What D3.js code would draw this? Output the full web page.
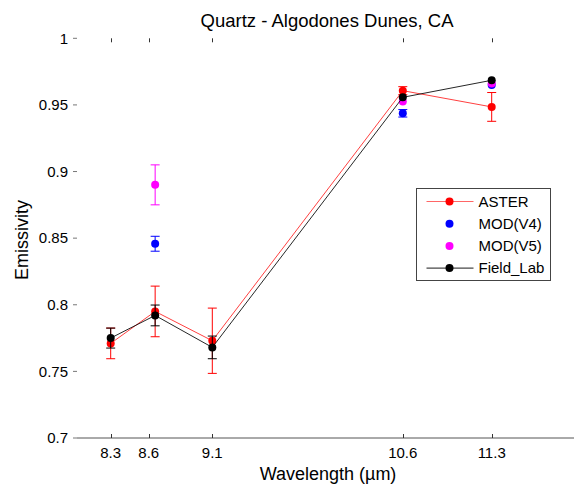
<!DOCTYPE html>
<html>
<head>
<meta charset="utf-8">
<script src="https://cdn.jsdelivr.net/npm/d3@7"></script>
<style>
  body { margin: 0; background: #fff; }
  text { font-family: "Liberation Sans", Arial, sans-serif; fill: #000; }
</style>
</head>
<body>
<div id="chart"></div>
<script>
// band centres (um) and tick labels
const xTicks = [8.3, 8.6, 9.1, 10.6, 11.3];
const yTicks = [0.7, 0.75, 0.8, 0.85, 0.9, 0.95, 1];

// emissivity per series, [wavelength, value, error]
const aster = [[8.3, 0.771, 0.0115], [8.65, 0.795, 0.019], [9.1, 0.773, 0.0245], [10.6, 0.9607, 0.003], [11.3, 0.9485, 0.0108]];
const modV4 = [[8.65, 0.8458, 0.0056], [10.6, 0.9437, 0.0028], [11.3, 0.965, 0]];
const modV5 = [[8.65, 0.890, 0.015], [10.6, 0.9525, 0], [11.3, 0.966, 0]];
const fieldLab = [[8.3, 0.775, 0.0075], [8.65, 0.792, 0.0078], [9.1, 0.768, 0.0085], [10.6, 0.9557, 0], [11.3, 0.9685, 0]];

const series = [
  {name: 'ASTER', data: aster, color: '#ff0000', line: true},
  {name: 'MOD(V4)', data: modV4, color: '#0000ff', line: false},
  {name: 'MOD(V5)', data: modV5, color: '#ff00ff', line: false},
  {name: 'Field_Lab', data: fieldLab, color: '#000000', line: true}
];

const width = 574, height = 486;
const margins = {left: 77, right: 574, top: 38.3, bottom: 438};

const svg = d3.select('#chart').append('svg')
  .attr('width', width)
  .attr('height', height);

const x = d3.scaleLinear().domain([8.3, 11.3]).range([110.7, 491.7]);
const y = d3.scaleLinear().domain([0.7, 1]).range([margins.bottom, margins.top]);

// bottom axis line
svg.append('line')
  .attr('x1', margins.left).attr('x2', margins.right)
  .attr('y1', margins.bottom).attr('y2', margins.bottom)
  .style('stroke', '#555').style('stroke-width', 1);

// x ticks (bottom, pointing up) and (top, pointing down)
svg.selectAll('line.xtick-bottom')
  .data(xTicks).enter().append('line')
  .attr('class', 'xtick-bottom')
  .attr('x1', d => Math.round(x(d)) + 0.5).attr('x2', d => Math.round(x(d)) + 0.5)
  .attr('y1', margins.bottom - 4).attr('y2', margins.bottom)
  .style('stroke', '#333');
svg.selectAll('line.xtick-top')
  .data(xTicks).enter().append('line')
  .attr('class', 'xtick-top')
  .attr('x1', d => Math.round(x(d)) + 0.5).attr('x2', d => Math.round(x(d)) + 0.5)
  .attr('y1', margins.top).attr('y2', margins.top + 4)
  .style('stroke', '#333');
svg.selectAll('text.xlabel')
  .data(xTicks).enter().append('text')
  .attr('class', 'xlabel')
  .attr('x', d => x(d)).attr('y', 458)
  .attr('text-anchor', 'middle')
  .style('font-size', '15px')
  .text(d => d3.format('.1f')(d));

// y ticks (left, pointing outward)
svg.selectAll('line.ytick')
  .data(yTicks).enter().append('line')
  .attr('class', 'ytick')
  .attr('x1', margins.left - 4).attr('x2', margins.left)
  .attr('y1', d => y(d)).attr('y2', d => y(d))
  .style('stroke', '#777');
svg.selectAll('text.ylabel')
  .data(yTicks).enter().append('text')
  .attr('class', 'ylabel')
  .attr('x', 68).attr('y', d => y(d))
  .attr('dy', '0.35em')
  .attr('text-anchor', 'end')
  .style('font-size', '15px')
  .text(d => d3.format('')(d));

// titles
svg.append('text')
  .attr('x', 327).attr('y', 27)
  .attr('text-anchor', 'middle')
  .style('font-size', '18.5px')
  .text('Quartz - Algodones Dunes, CA');
svg.append('text')
  .attr('x', 328).attr('y', 480)
  .attr('text-anchor', 'middle')
  .style('font-size', '18px')
  .text('Wavelength (\u00b5m)');
svg.append('text')
  .attr('transform', 'translate(' + [28, 240] + ') rotate(-90)')
  .attr('text-anchor', 'middle')
  .style('font-size', '18px')
  .text('Emissivity');

const line = d3.line().x(d => x(d[0])).y(d => y(d[1]));

series.forEach(s => {
  const g = svg.append('g').attr('class', 'series');
  if (s.line) {
    g.append('path')
      .datum(s.data)
      .attr('d', line)
      .style('fill', 'none')
      .style('stroke', s.color)
      .style('stroke-opacity', s.name === 'ASTER' ? 0.75 : 0.85)
      .style('stroke-width', 1);
  }
  const err = g.selectAll('g.err').data(s.data.filter(d => d[2] > 0)).enter().append('g').attr('class', 'err')
    .style('stroke', s.color).style('stroke-width', 1);
  err.append('line')
    .attr('x1', d => x(d[0])).attr('x2', d => x(d[0]))
    .attr('y1', d => y(d[1] - d[2])).attr('y2', d => y(d[1] + d[2]));
  err.append('line')
    .attr('x1', d => x(d[0]) - 4.5).attr('x2', d => x(d[0]) + 4.5)
    .attr('y1', d => y(d[1] - d[2])).attr('y2', d => y(d[1] - d[2]));
  err.append('line')
    .attr('x1', d => x(d[0]) - 4.5).attr('x2', d => x(d[0]) + 4.5)
    .attr('y1', d => y(d[1] + d[2])).attr('y2', d => y(d[1] + d[2]));
  g.selectAll('circle').data(s.data).enter().append('circle')
    .attr('cx', d => x(d[0])).attr('cy', d => y(d[1]))
    .attr('r', 4)
    .style('fill', s.color);
});

// legend
const legend = svg.append('g').attr('class', 'legend')
  .attr('transform', 'translate(' + [416.5, 188.5] + ')');
legend.append('rect')
  .attr('width', 134).attr('height', 92)
  .style('fill', '#fff').style('stroke', '#444').style('stroke-width', 1);
const items = legend.selectAll('g.item').data(series).enter().append('g')
  .attr('class', 'item')
  .attr('transform', (d, i) => 'translate(' + [0, 13 + i * 22.2] + ')');
items.filter(d => d.line).append('line')
  .attr('x1', 10).attr('x2', 57).attr('y1', 0).attr('y2', 0)
  .style('stroke', d => d.color)
  .style('stroke-opacity', d => d.name === 'ASTER' ? 0.6 : 0.9);
items.append('circle')
  .attr('cx', 33).attr('cy', 0).attr('r', 4)
  .style('fill', d => d.color);
items.append('text')
  .attr('x', 62).attr('y', 0).attr('dy', '0.35em')
  .style('font-size', '15px')
  .text(d => d.name);
</script>
</body>
</html>
